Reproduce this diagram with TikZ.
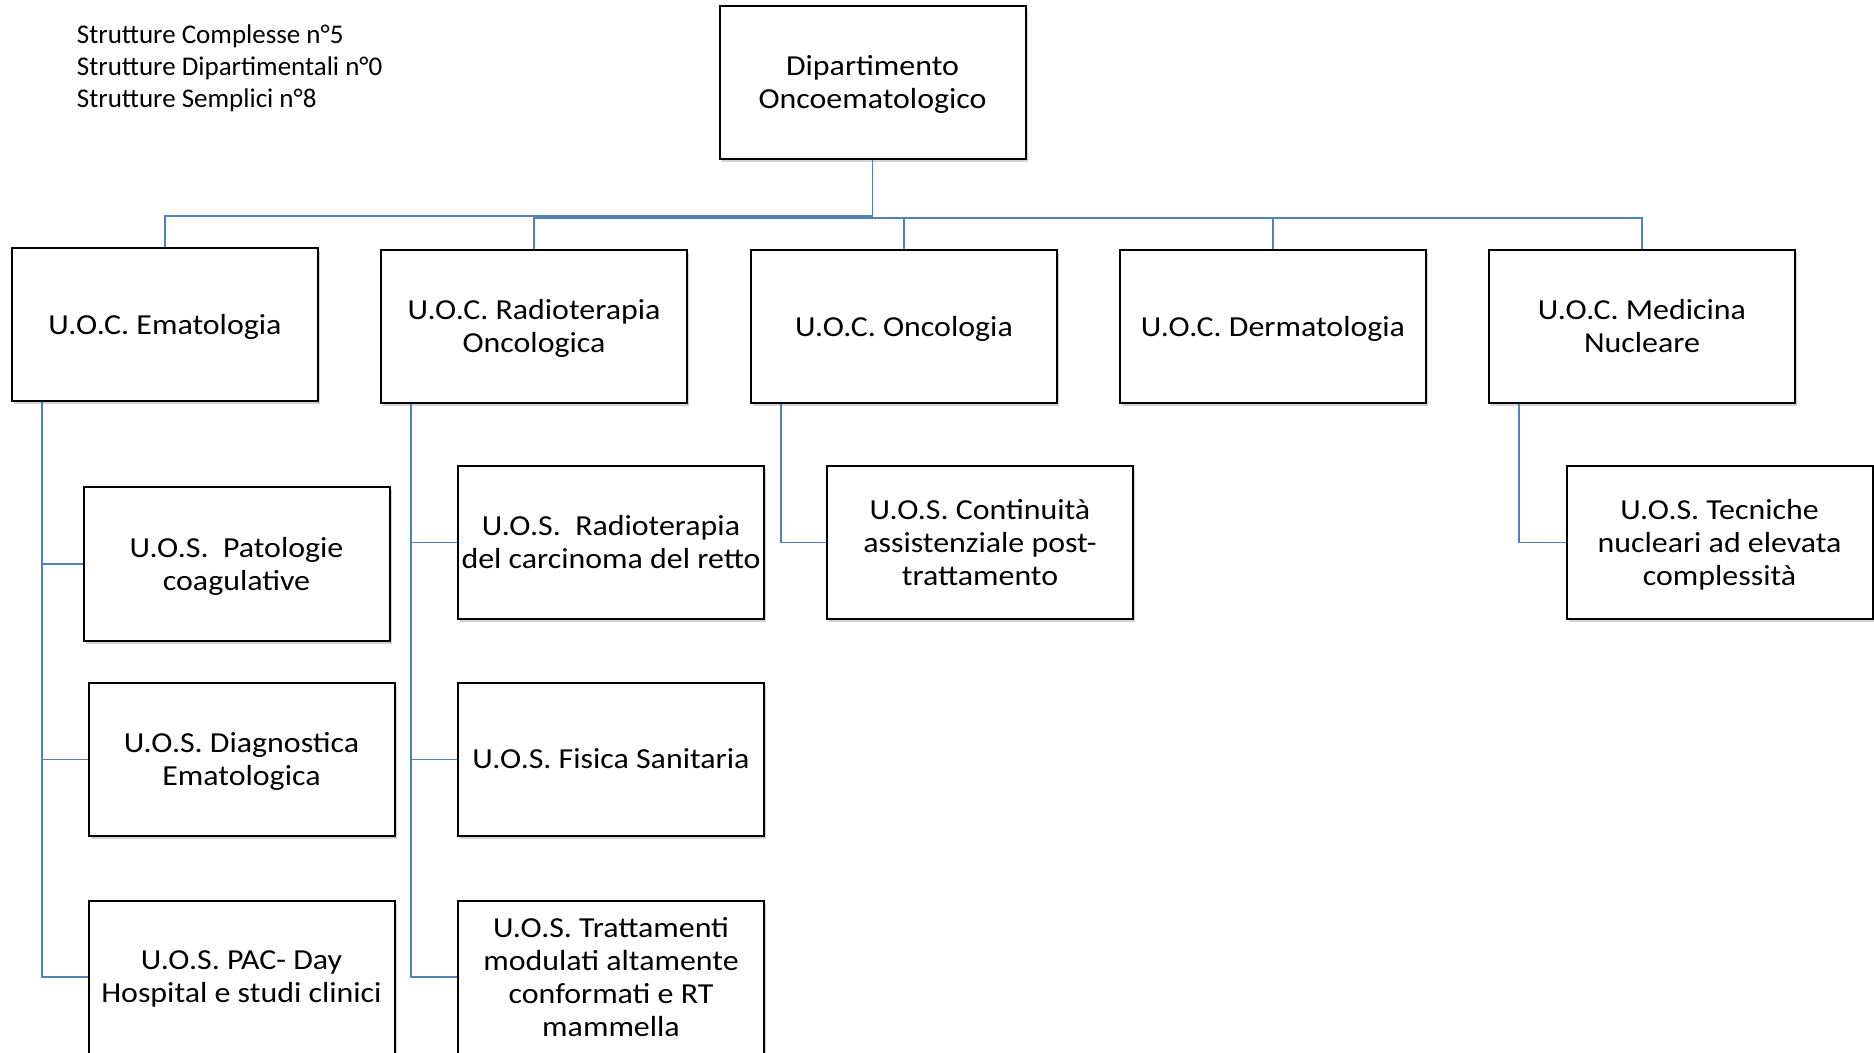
\documentclass[tikz,border=0pt]{standalone}
\usepackage{fontspec}
\setmainfont{Carlito}[FakeStretch=1.1]
\newfontfamily\headfont{Carlito}
\usepackage{tikz}
\usetikzlibrary{shadows}

\definecolor{linkblue}{RGB}{79,129,189}

\tikzset{
    unit/.style={draw, line width=1pt, fill=white, inner sep=0pt,
        minimum width=153pt, minimum height=76.5pt, align=center,
        text depth=0.5pt, font=\fontsize{14.5}{16.5}\selectfont,
        drop shadow={shadow xshift=1.2pt, shadow yshift=-1.5pt, opacity=0.35}},
    conn/.style={linkblue, line width=0.9pt}
}

\begin{document}
\begin{tikzpicture}[x=0.5pt, y=-0.5pt]
    \useasboundingbox (0,0) rectangle (1874,1053);
    \node[anchor=west, align=left, inner sep=0pt, font=\headfont\fontsize{13.5}{16}\selectfont] (info) at (76.5,68)
        {Strutture Complesse n°5\\Strutture Dipartimentali n°0\\Strutture Semplici n°8};
    \node[unit] (dept) at (872.5,82.5) {Dipartimento\\Oncoematologico};
    % strutture complesse
    \node[unit] (ema) at (165,324.5) {U.O.C. Ematologia};
    \node[unit] (radio) at (534,326.5) {U.O.C. Radioterapia\\Oncologica};
    \node[unit] (onco) at (904,326.5) {U.O.C. Oncologia};
    \node[unit] (derma) at (1273,326.5) {U.O.C. Dermatologia};
    \node[unit] (nucl) at (1642,326.5) {U.O.C. Medicina\\Nucleare};
    % strutture semplici
    \node[unit] (pat) at (236.5,564) {U.O.S.~~Patologie\\coagulative};
    \node[unit] (diag) at (241.5,759.5) {U.O.S. Diagnostica\\Ematologica};
    \node[unit] (pac) at (241.5,977) {U.O.S. PAC- Day\\Hospital e studi clinici};
    \node[unit] (retto) at (611,542.5) {U.O.S.~~Radioterapia\\del carcinoma del retto};
    \node[unit] (fis) at (611,759.5) {U.O.S. Fisica Sanitaria};
    \node[unit] (tratt) at (611,977) {U.O.S. Trattamenti\\modulati altamente\\conformati e RT\\mammella};
    \node[unit] (cont) at (980,542.5) {U.O.S. Continuità\\assistenziale post-\\trattamento};
    \node[unit] (tecn) at (1719.5,542.5) {U.O.S. Tecniche\\nucleari ad elevata\\complessità};
    % collegamenti
    \coordinate (busL) at (872.5,216);
    \coordinate (busR) at (872.5,218);
    \draw[conn] (dept.south) -- (busR);
    \draw[conn] (busL) -| (ema.north);
    \foreach \n in {radio,onco,derma,nucl}
        \draw[conn] (busR) -| (\n.north);
    \foreach \c in {pat,diag,pac}
        \draw[conn] ([xshift=15.5pt]ema.south west) |- (\c.west);
    \foreach \c in {retto,fis,tratt}
        \draw[conn] ([xshift=15.5pt]radio.south west) |- (\c.west);
    \draw[conn] ([xshift=15.5pt]onco.south west) |- (cont.west);
    \draw[conn] ([xshift=15.5pt]nucl.south west) |- (tecn.west);
\end{tikzpicture}
\end{document}
